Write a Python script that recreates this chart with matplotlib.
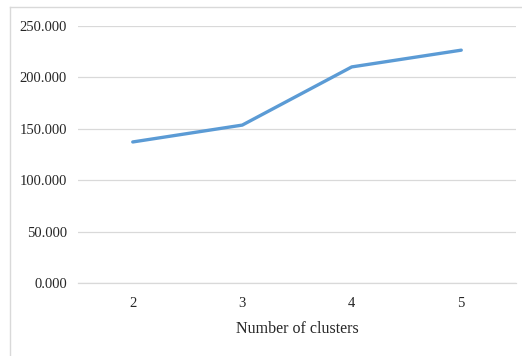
import matplotlib.pyplot as plt
from matplotlib.lines import Line2D

clusters = ['2', '3', '4', '5']
values = [137.2, 153.6, 210.2, 226.5]
yticks = [0, 50, 100, 150, 200, 250]

plt.rcParams['font.family'] = ['Liberation Serif', 'DejaVu Serif']

fig = plt.figure(figsize=(5.22, 3.56), dpi=100)
ax = fig.add_axes([78/522, 1-283/356, (516-78)/522, (283-26)/356])

x = range(len(clusters))
ax.plot(x, values, color='#5B9BD5', lw=2.4, solid_capstyle='round', solid_joinstyle='round', zorder=3)

ax.set_xlim(-0.5, len(clusters)-0.5)
ax.set_ylim(0, 250)
ax.set_xticks(list(x))
ax.set_xticklabels(clusters)
ax.set_yticks(yticks)
ax.set_yticklabels([f'{v:.3f}' for v in yticks])
ax.yaxis.grid(True, color='#D9D9D9', lw=0.9)
ax.set_axisbelow(True)
for s in ax.spines.values():
    s.set_visible(False)
ax.spines['bottom'].set_visible(True)
ax.spines['bottom'].set_color('#D9D9D9')
ax.spines['bottom'].set_linewidth(0.9)
ax.tick_params(axis='both', length=0, labelsize=10.5, colors='#262626')
ax.tick_params(axis='y', pad=8)
ax.tick_params(axis='x', pad=10)
ax.set_xlabel('Number of clusters', fontsize=11.5, color='#262626', labelpad=8)

# chart frame (clipped at right and bottom in the source)
fig.add_artist(Line2D([10/522, 10/522], [0, 1-7/356], transform=fig.transFigure, color='#D9D9D9', lw=1))
fig.add_artist(Line2D([10/522, 1], [1-7/356, 1-7/356], transform=fig.transFigure, color='#D9D9D9', lw=1))

fig.savefig('out.png', dpi=100)
